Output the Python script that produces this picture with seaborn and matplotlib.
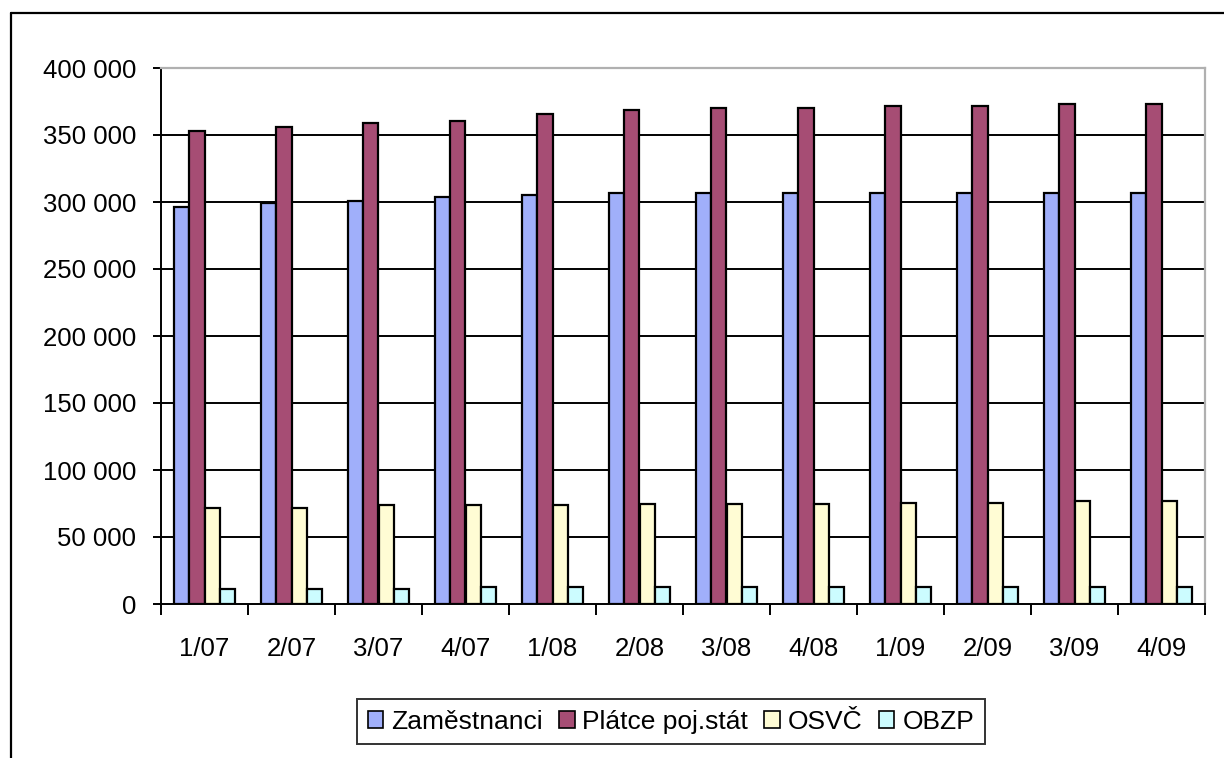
import matplotlib
matplotlib.use("Agg")
import matplotlib.pyplot as plt
from matplotlib.lines import Line2D
from matplotlib.ticker import FuncFormatter, FixedLocator
import seaborn as sns
import pandas as pd

# Quarterly counts of insured persons by payer group
quarters = ["1/07", "2/07", "3/07", "4/07", "1/08", "2/08",
            "3/08", "4/08", "1/09", "2/09", "3/09", "4/09"]
zamestnanci = [296000, 299000, 301000, 304000, 305500, 307000,
               307000, 307000, 307000, 307000, 307000, 307000]
platce_stat = [353000, 355700, 359000, 360500, 365700, 368700,
               370000, 370000, 372000, 372000, 373400, 373400]
osvc = [72000, 72000, 74000, 74000, 74000, 75000,
        75000, 75000, 75600, 75600, 77000, 77000]
obzp = [11200, 11200, 11200, 12400, 12400, 12400,
        12400, 12400, 12400, 12400, 12400, 12400]
series_names = ["Zaměstnanci", "Plátce poj.stát", "OSVČ", "OBZP"]
colors = ["#A0AFFA", "#A64D74", "#FFFCD4", "#CCFCFF"]

rows = []
for name, vals in zip(series_names, [zamestnanci, platce_stat, osvc, obzp]):
    for q, v in zip(quarters, vals):
        rows.append({"quarter": q, "group": name, "value": v})
df = pd.DataFrame(rows)

sns.set_theme(style="white")
plt.rcParams["font.family"] = ["Liberation Sans", "DejaVu Sans"]

fig = plt.figure(figsize=(12.24, 7.58), dpi=100)
ax = fig.add_axes([161 / 1224, 1 - 604 / 758, (1205 - 161) / 1224, (604 - 68) / 758])

sns.barplot(data=df, x="quarter", y="value", hue="group", order=quarters,
            hue_order=series_names, palette=colors, width=0.7, ax=ax,
            edgecolor="black", linewidth=1.6, saturation=1, legend=True,
            errorbar=None, zorder=3)

ax.set_xlim(-0.5, len(quarters) - 0.5)
ax.set_ylim(0, 400000)
ax.set_xlabel("")
ax.set_ylabel("")

# horizontal gridlines
for yv in range(50000, 400000, 50000):
    ax.axhline(yv, color="black", lw=1.4, zorder=1)

ax.yaxis.set_major_locator(FixedLocator(range(0, 400001, 50000)))
ax.yaxis.set_major_formatter(FuncFormatter(lambda v, p: f"{int(v):,}".replace(",", " ")))
ax.tick_params(axis="y", which="major", length=6, width=1.4, color="black",
               direction="out", labelsize=18.5, labelcolor="black", pad=12, left=True)
ax.tick_params(axis="x", which="major", length=0, labelsize=18.5, labelcolor="black", pad=24)
ax.set_xticks([i - 0.5 for i in range(len(quarters) + 1)], minor=True)
ax.tick_params(axis="x", which="minor", length=8, width=1.4, color="black",
               direction="out", bottom=True)

for side in ["left", "bottom"]:
    ax.spines[side].set_color("black")
    ax.spines[side].set_linewidth(1.4)
for side in ["top", "right"]:
    ax.spines[side].set_color("#B0B0B0")
    ax.spines[side].set_linewidth(1.6)
    ax.spines[side].set_visible(True)

# legend below the plot
handles, labels = ax.get_legend_handles_labels()
ax.get_legend().remove()
leg = fig.legend(handles, labels, loc="lower center", bbox_to_anchor=(0.548, 0.018),
                 ncol=4, fontsize=19, frameon=True, fancybox=False,
                 edgecolor="black", handlelength=0.6, handleheight=0.6,
                 handletextpad=0.3, columnspacing=0.6, borderpad=0.4,
                 borderaxespad=0.0, labelcolor="black")
leg.get_frame().set_linewidth(1.4)
for h in leg.legend_handles:
    h.set_edgecolor("black")
    h.set_linewidth(1.2)

# outer chart frame (left and top edges)
fig.add_artist(Line2D([11 / 1224, 11 / 1224], [0, 1 - 13 / 758], color="black", lw=1.6))
fig.add_artist(Line2D([11 / 1224, 1], [1 - 13 / 758, 1 - 13 / 758], color="black", lw=1.6))

fig.savefig("out.png", dpi=100, facecolor="white")
